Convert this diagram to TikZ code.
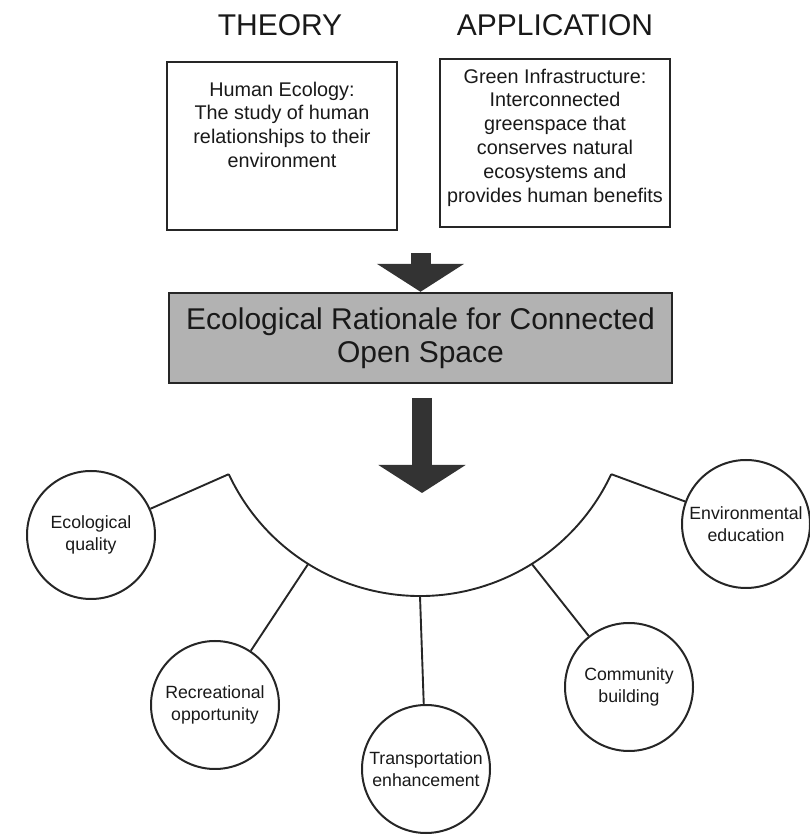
\documentclass[tikz,border=0pt]{standalone}
\usepackage{fontspec}
\setmainfont{Liberation Sans}
\usetikzlibrary{positioning,arrows.meta}
\begin{document}
    \begin{tikzpicture}[x=1pt, y=1pt,
        every node/.style={align=center, text=black!90},
        heading/.style={font=\fontsize{30}{33}\selectfont},
        infobox/.style={draw=black!85, line width=2pt, minimum width=230pt, minimum height=168pt},
        infotext/.style={font=\fontsize{19.8}{23.8}\selectfont, inner sep=0pt},
        rationale/.style={draw=black!85, fill=black!30, line width=2.4pt, minimum width=503pt, minimum height=90pt,
            font=\fontsize{30}{33}\selectfont},
        benefit/.style={circle, draw=black!85, line width=2pt, minimum size=128pt, inner sep=0pt,
            font=\fontsize{17.7}{21.5}\selectfont},
        blockarrow/.style={draw=black!80, line width=20pt, -{Triangle[width=86pt, length=28pt]}},
        spoke/.style={draw=black!85, line width=1.9pt}]
        \useasboundingbox (0,0) rectangle (809,835);
        \node[heading] (theory) at (280,810) {THEORY};
        \node[heading] (application) at (555,810) {APPLICATION};
        \node[infobox] (ecologybox) at (282,688.5) {};
        \node[infotext, below=20pt of ecologybox.north] (ecologytext) 
        {Human Ecology:\\The study of human\\relationships to their\\environment};
        \node[infobox] (greenbox) at (555,691.5) {};
        \node[infotext, below=10pt of greenbox.north] (greentext) 
        {Green Infrastructure:\\Interconnected\\greenspace that\\conserves natural\\ecosystems and\\provides human benefits};
        \node[rationale] (rationale) at (420.5,497) 
        {Ecological Rationale for Connected\\Open Space};
        \coordinate (arrowtop) at (420.5,582);
        \draw[blockarrow] (arrowtop) -- (rationale.north);
        \coordinate (arrowstart) at (422,437);
        \coordinate (arrowend) at (422,342);
        \draw[blockarrow] (arrowstart) -- (arrowend);
        \coordinate (hub) at (420,450);
        \draw[spoke] (hub) ++(205:211) coordinate (arcleft) 
        arc[start angle=205, end angle=335, radius=211] coordinate (arcright);
        \path (hub) ++(238:211) coordinate (arcrec);
        \path (hub) ++(270:211) coordinate (arcmid);
        \path (hub) ++(302:211) coordinate (arccom);
        \node[benefit] (ecological) at (91,300) {Ecological\\quality};
        \node[benefit] (recreational) at (215,130) {Recreational\\opportunity};
        \node[benefit] (transport) at (426,66) {Transportation\\enhancement};
        \node[benefit] (community) at (629,148) {Community\\building};
        \node[benefit] (environmental) at (746,311) {Environmental\\education};
        \draw[spoke] (arcleft) -- (ecological);
        \draw[spoke] (arcrec) -- (recreational);
        \draw[spoke] (arcmid) -- (transport);
        \draw[spoke] (arccom) -- (community);
        \draw[spoke] (arcright) -- (environmental);
    \end{tikzpicture}
\end{document}
